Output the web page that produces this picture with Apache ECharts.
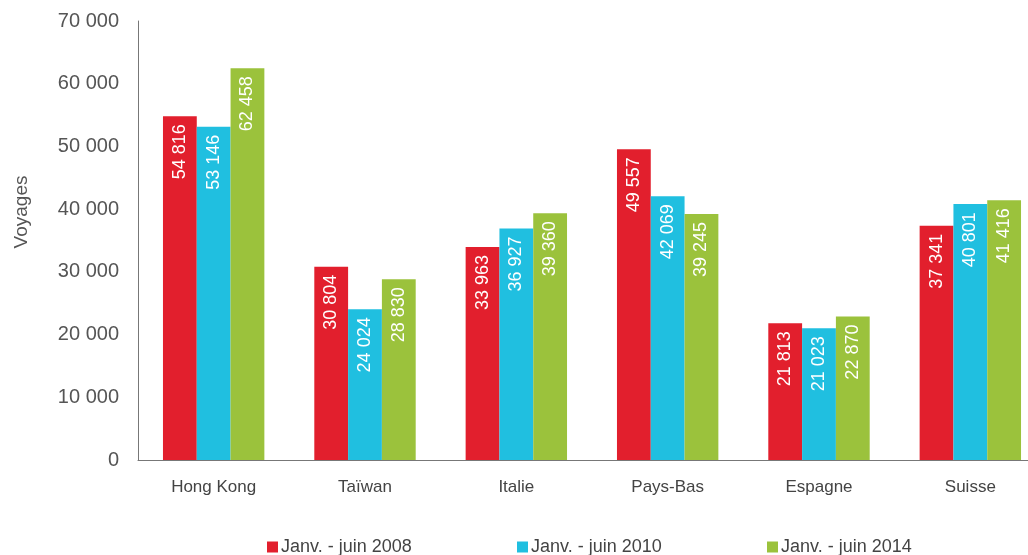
<!DOCTYPE html>
<html><head><meta charset="utf-8">
<script src="https://cdn.jsdelivr.net/npm/echarts@6/dist/echarts.min.js"></script>
<style>html,body{margin:0;padding:0;background:#fff;overflow:hidden}#c{width:1046px;height:555px}</style>
</head><body><div id="c"></div>
<script>
const categories = ['Hong Kong', 'Taïwan', 'Italie', 'Pays-Bas', 'Espagne', 'Suisse'];
const seriesNames = ['Janv. - juin 2008', 'Janv. - juin 2010', 'Janv. - juin 2014'];
const v2008 = [54816, 30804, 33963, 49557, 21813, 37341];
const v2010 = [53146, 24024, 36927, 42069, 21023, 40801];
const v2014 = [62458, 28830, 39360, 39245, 22870, 41416];
const colors = ['#E21F2D', '#20BFE0', '#9BC23C'];
const yTicks = [0, 10000, 20000, 30000, 40000, 50000, 60000, 70000];

const fmt = v => String(v).replace(/\B(?=(\d{3})+(?!\d))/g, ' ');
const FONT = '"Liberation Sans", Arial, sans-serif';

const chart = echarts.init(document.getElementById('c'), null, {renderer: 'canvas'});
const data = [v2008, v2010, v2014];
chart.setOption({
  animation: false,
  textStyle: {fontFamily: FONT},
  grid: {left: 138, top: 21, bottom: 95, right: 0, containLabel: false},
  graphic: [{
    type: 'text', x: 22, y: 212, rotation: Math.PI / 2,
    style: {text: 'Voyages', fontSize: 19, fill: '#555', fontFamily: FONT,
      align: 'center', verticalAlign: 'middle'}
  }],
  legend: [0, 1, 2].map(i => ({
    data: [seriesNames[i]],
    left: 262 + i * 250, top: 533,
    itemWidth: 11, itemHeight: 11, itemGap: 3,
    icon: 'rect',
    textStyle: {fontSize: 18, color: '#444', fontFamily: FONT, padding: [0, 0, 0, -2]}
  })),
  xAxis: {
    type: 'category', data: categories,
    axisLine: {lineStyle: {color: '#777', width: 1}},
    axisTick: {show: false},
    axisLabel: {fontSize: 17, color: '#444', margin: 19, fontFamily: FONT}
  },
  yAxis: {
    type: 'value', min: 0, max: 70000, interval: 10000,
    axisLine: {show: true, lineStyle: {color: '#777', width: 1}},
    axisTick: {show: false},
    splitLine: {show: false},
    axisLabel: {fontSize: 20, color: '#555', margin: 19, fontFamily: FONT,
      formatter: v => yTicks.includes(v) ? fmt(v) : ''}
  },
  series: [0, 1, 2].map(i => ({
    name: seriesNames[i], type: 'bar', data: data[i],
    barGap: '0%', barCategoryGap: '33%',
    itemStyle: {color: colors[i]},
    label: {
      show: true, position: 'insideTop', rotate: 90, distance: 8,
      align: 'right', verticalAlign: 'middle',
      color: '#fff', fontSize: 18, fontFamily: FONT,
      formatter: p => fmt(p.value)
    }
  }))
});
</script></body></html>
